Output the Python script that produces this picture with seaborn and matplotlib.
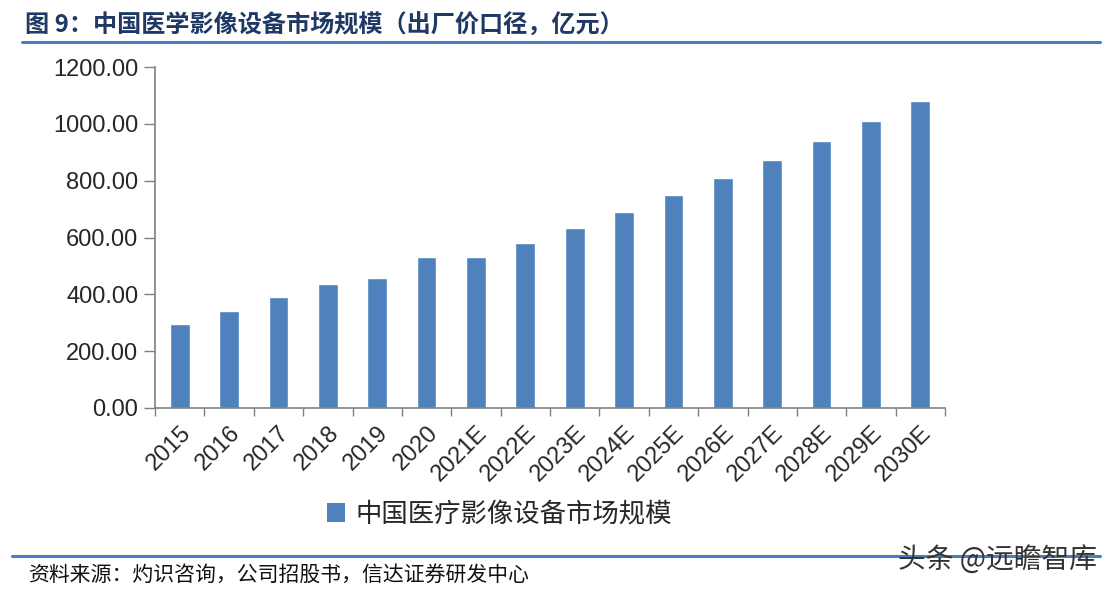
import matplotlib
matplotlib.use("Agg")
import matplotlib.pyplot as plt
import matplotlib.transforms as mtransforms
from matplotlib.lines import Line2D
from matplotlib.patches import Patch
import numpy as np
import pandas as pd
import seaborn as sns

years = ['2015', '2016', '2017', '2018', '2019', '2020', '2021E', '2022E',
         '2023E', '2024E', '2025E', '2026E', '2027E', '2028E', '2029E', '2030E']
market_size = [297, 340, 390, 437, 457, 533, 531, 581,
               635, 689, 748, 809, 874, 940, 1009, 1082]
series_name = '中国医疗影像设备市场规模'
title_text = '图 9：中国医学影像设备市场规模（出厂价口径，亿元）'
source_text = '资料来源：灼识咨询，公司招股书，信达证券研发中心'
mark_text = '头条 @远瞻智库'

BAR_COLOR = '#4F81BD'
LINE_COLOR = '#4A7CC0'

sns.set_theme(style='white')
plt.rcParams['font.family'] = ['Noto Sans CJK SC', 'DejaVu Sans']

df = pd.DataFrame({'year': years, 'value': market_size})

fig = plt.figure(figsize=(11.12, 5.91), dpi=100)
ax = fig.add_axes([155 / 1112, 1 - 408 / 591, (945 - 155) / 1112, (408 - 67) / 591])

sns.barplot(data=df, x='year', y='value', color=BAR_COLOR, width=0.4,
            saturation=1, ax=ax)

ax.set_ylim(0, 1200)
ax.set_xlim(-0.5, len(years) - 0.5)
ax.set_yticks(np.arange(0, 1201, 200))
ax.set_yticklabels([f'{v:.2f}' for v in np.arange(0, 1201, 200)], fontsize=17,
                   family=['Liberation Sans', 'DejaVu Sans'])
ax.set_xticks(range(len(years)))
ax.set_xticklabels(years, rotation=45, ha='right', rotation_mode='anchor',
                   fontsize=17, family=['Liberation Sans', 'DejaVu Sans'])
shift = mtransforms.ScaledTranslation(12 / 100, 0, fig.dpi_scale_trans)
for lab in ax.get_xticklabels():
    lab.set_transform(lab.get_transform() + shift)
ax.set_xticks(np.arange(-0.5, len(years), 1), minor=True)
ax.tick_params(axis='x', which='major', length=0, pad=10)
ax.tick_params(axis='x', which='minor', length=6, width=1, color='#808080',
               direction='out', bottom=True)
ax.tick_params(axis='y', length=8, width=1, color='#808080', direction='out',
               left=True, pad=4)
ax.set_xlabel('')
ax.set_ylabel('')
for side in ['top', 'right']:
    ax.spines[side].set_visible(False)
for side in ['left', 'bottom']:
    ax.spines[side].set_color('#808080')
    ax.spines[side].set_linewidth(1.2)

handles = [Patch(facecolor=BAR_COLOR, edgecolor='none')]
fig.legend(handles, [series_name], loc='center left',
           bbox_to_anchor=(303 / 1112, 1 - 514 / 591), frameon=False,
           fontsize=19, handlelength=0.7, handleheight=0.7, handletextpad=0.4)

# title, rules and footer
fig.text(25 / 1112, 1 - 26 / 591, title_text, fontsize=17.4, fontweight='bold',
         color='#1F3864', va='center', ha='left')
fig.add_artist(Line2D([22 / 1112, 1100 / 1112], [1 - 42 / 591] * 2,
                      color=LINE_COLOR, lw=2.2, transform=fig.transFigure))
fig.add_artist(Line2D([12 / 1112, 1100 / 1112], [1 - 556 / 591] * 2,
                      color=LINE_COLOR, lw=2.2, transform=fig.transFigure))
fig.text(28 / 1112, 1 - 575 / 591, source_text, fontsize=15, color='#111111',
         style='italic', va='center', ha='left')
fig.text(1097 / 1112, 1 - 560 / 591, mark_text, fontsize=20, color='#333333',
         va='center', ha='right')

fig.savefig('out.png', dpi=100)
